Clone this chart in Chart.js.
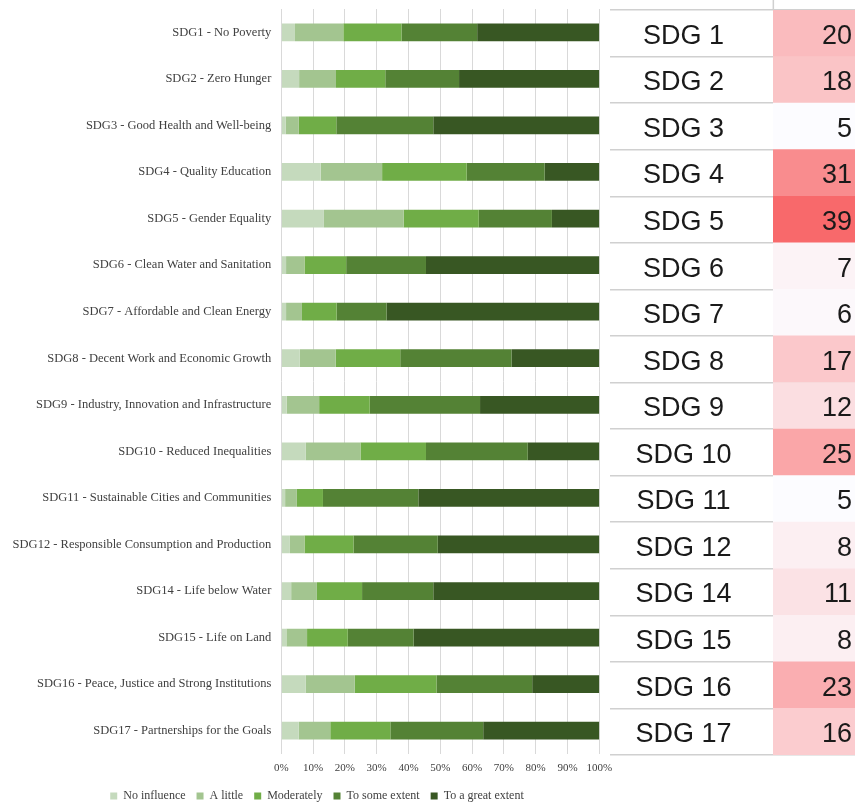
<!DOCTYPE html>
<html>
<head>
<meta charset="utf-8">
<script src="https://cdn.jsdelivr.net/npm/chart.js@4/dist/chart.umd.min.js"></script>
<style>
  html, body { margin: 0; padding: 0; background: #fff; overflow: hidden; width: 855px; height: 805px; }
  #barBox { position: absolute; left: 0; top: 0; width: 612px; height: 812px; }
  #tableBox { position: absolute; left: 610px; top: 0; width: 245px; height: 805px; }
</style>
</head>
<body>
<div id="barBox"><canvas id="barChart"></canvas></div>
<div id="tableBox"><canvas id="tableChart"></canvas></div>
<script>
// categories (left chart)
const categories = [
  'SDG1 - No Poverty',
  'SDG2 - Zero Hunger',
  'SDG3 - Good Health and Well-being',
  'SDG4 - Quality Education',
  'SDG5 - Gender Equality',
  'SDG6 - Clean Water and Sanitation',
  'SDG7 - Affordable and Clean Energy',
  'SDG8 - Decent Work and Economic Growth',
  'SDG9 - Industry, Innovation and Infrastructure',
  'SDG10 - Reduced Inequalities',
  'SDG11 - Sustainable Cities and Communities',
  'SDG12 - Responsible Consumption and Production',
  'SDG14 - Life below Water',
  'SDG15 - Life on Land',
  'SDG16 - Peace, Justice and Strong Institutions',
  'SDG17 - Partnerships for the Goals'
];

// shares in %
const noInfluence   = [4.3, 5.6, 1.4, 12.4, 13.4, 1.5, 1.5, 5.8, 1.7, 7.7, 1.2, 2.7, 3.1, 1.6, 7.7, 5.5];
const aLittle       = [15.2, 11.6, 4.1, 19.3, 25.1, 5.8, 5.0, 11.3, 10.2, 17.2, 3.7, 4.6, 8.1, 6.5, 15.4, 9.9];
const moderately    = [18.3, 15.5, 11.8, 26.6, 23.6, 13.1, 10.9, 20.3, 15.9, 20.6, 8.2, 15.4, 14.2, 12.8, 25.7, 18.9];
const toSomeExtent  = [23.8, 23.2, 30.5, 24.5, 23.0, 25.1, 15.7, 35.0, 34.7, 32.0, 30.0, 26.5, 22.4, 20.7, 30.1, 29.2];
const toGreatExtent = [38.4, 44.1, 52.2, 17.2, 14.9, 54.5, 66.9, 27.6, 37.5, 22.5, 56.9, 50.8, 52.2, 58.4, 21.1, 36.5];

const tickLabels = ['0%', '10%', '20%', '30%', '40%', '50%', '60%', '70%', '80%', '90%', '100%'];

// table on the right
const tableLabels = ['SDG 1', 'SDG 2', 'SDG 3', 'SDG 4', 'SDG 5', 'SDG 6', 'SDG 7', 'SDG 8',
  'SDG 9', 'SDG 10', 'SDG 11', 'SDG 12', 'SDG 14', 'SDG 15', 'SDG 16', 'SDG 17'];
const counts = [20, 18, 5, 31, 39, 7, 6, 17, 12, 25, 5, 8, 11, 8, 23, 16];

const serif = 'Liberation Serif';

// move the legend so it is centred where the original one is
const legendShift = {
  id: 'legendShift',
  afterLayout(chart) {
    const lg = chart.legend;
    const d = 317 - (lg.left + lg.right) / 2;
    lg.left += d;
    lg.right += d;
  }
};

// Bar Chart
const barCtx = document.getElementById('barChart').getContext('2d');
new Chart(barCtx, {
  type: 'bar',
  data: {
    labels: categories,
    datasets: [
      { label: 'No influence', data: noInfluence, backgroundColor: '#c5dabd' },
      { label: 'A little', data: aLittle, backgroundColor: '#a3c590' },
      { label: 'Moderately', data: moderately, backgroundColor: '#70ad47' },
      { label: 'To some extent', data: toSomeExtent, backgroundColor: '#548235' },
      { label: 'To a great extent', data: toGreatExtent, backgroundColor: '#385723' }
    ]
  },
  options: {
    indexAxis: 'y',
    responsive: true,
    maintainAspectRatio: false,
    animation: false,
    layout: { padding: { left: 0, right: 12.7, top: 9, bottom: 0 } },
    datasets: { bar: { barPercentage: 0.38, categoryPercentage: 1 } },
    scales: {
      x: {
        stacked: true,
        min: 0,
        max: 100,
        grid: { color: '#d9d9d9', drawTicks: false },
        border: { display: false },
        ticks: {
          stepSize: 10,
          autoSkip: false,
          maxRotation: 0,
          padding: 8,
          color: '#404040',
          font: { family: serif, size: 11 },
          callback: (v, i) => tickLabels[i]
        },
        afterFit: s => { s.height = 25; s.paddingLeft = 0; s.paddingRight = 0; }
      },
      y: {
        stacked: true,
        grid: { display: false, drawTicks: false },
        border: { display: false },
        ticks: { autoSkip: false, padding: 10, color: '#404040', font: { family: serif, size: 12.5 } },
        afterFit: s => { s.width = 281.3; s.paddingTop = 0; s.paddingBottom = 0; }
      }
    },
    plugins: {
      legend: {
        position: 'bottom',
        labels: { boxWidth: 7, boxHeight: 7, padding: 11, color: '#404040', font: { family: serif, size: 12 } }
      },
      tooltip: { enabled: false }
    }
  },
  plugins: [legendShift]
});

// white -> red colour scale for the counts
function cellColor(v) {
  const lo = Math.min(...counts), hi = Math.max(...counts);
  const t = (v - lo) / (hi - lo);
  const r = Math.round(252 + (248 - 252) * t);
  const g = Math.round(252 + (105 - 252) * t);
  const b = Math.round(255 + (107 - 255) * t);
  return `rgb(${r}, ${g}, ${b})`;
}

const tableText = {
  id: 'tableText',
  afterDatasetsDraw(chart) {
    const { ctx, chartArea, scales: { x, y } } = chart;
    ctx.save();
    // little border stub above the value column
    ctx.strokeStyle = '#d0d0d0';
    ctx.lineWidth = 1.5;
    ctx.beginPath();
    ctx.moveTo(x.getPixelForValue(2), 0);
    ctx.lineTo(x.getPixelForValue(2), chartArea.top);
    ctx.stroke();

    ctx.font = '27px "Liberation Sans"';
    ctx.fillStyle = '#1a1a1a';
    ctx.textBaseline = 'middle';
    tableLabels.forEach((lab, i) => {
      const py = y.getPixelForValue(i) + 3;
      ctx.textAlign = 'center';
      ctx.fillText(lab, x.getPixelForValue(0.9), py);
      ctx.textAlign = 'right';
      ctx.fillText(String(counts[i]), chartArea.right - 3, py);
    });
    ctx.restore();
  }
};

// Table (value cells as floating bars)
const tableCtx = document.getElementById('tableChart').getContext('2d');
new Chart(tableCtx, {
  type: 'bar',
  data: {
    labels: tableLabels,
    datasets: [{
      data: counts.map((n, i) => ({ y: tableLabels[i], x: [2, 3] })),
      backgroundColor: counts.map(cellColor),
      barPercentage: 1,
      categoryPercentage: 1
    }]
  },
  options: {
    indexAxis: 'y',
    responsive: true,
    maintainAspectRatio: false,
    animation: false,
    layout: { padding: { left: 0, right: 0, top: 10, bottom: 50 } },
    scales: {
      x: { display: false, min: 0, max: 3 },
      y: {
        ticks: { display: false },
        grid: { offset: true, color: '#d0d0d0', lineWidth: 1.5, drawTicks: false },
        border: { display: false },
        afterFit: s => { s.width = 0; s.paddingTop = 0; s.paddingBottom = 0; }
      }
    },
    plugins: { legend: { display: false }, tooltip: { enabled: false } }
  },
  plugins: [tableText]
});
</script>
</body>
</html>
